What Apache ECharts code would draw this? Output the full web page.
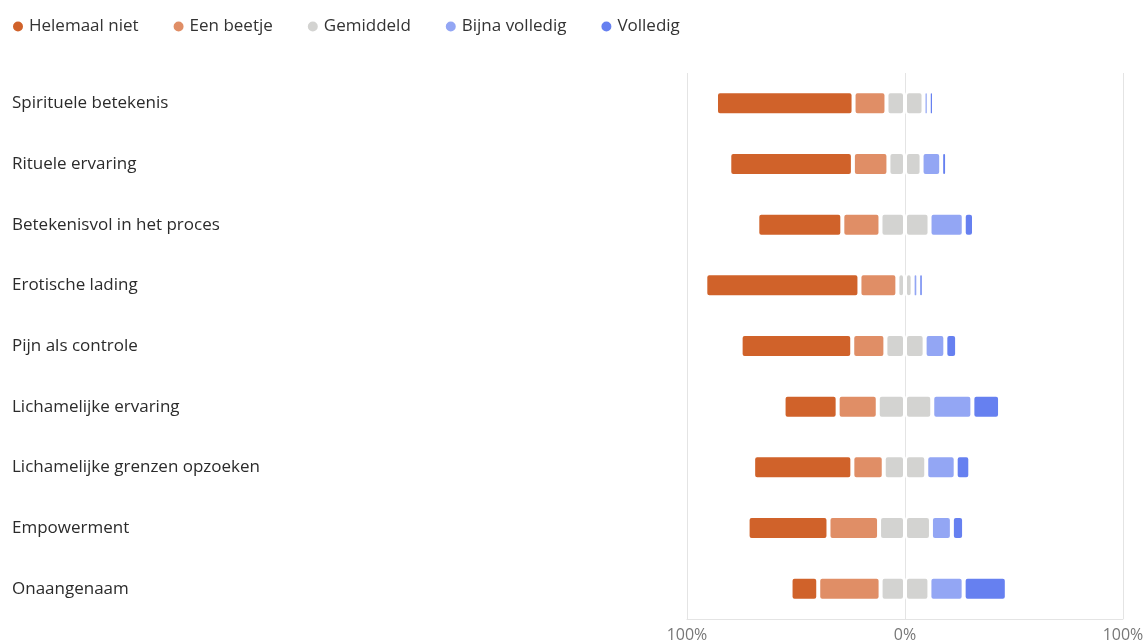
<!DOCTYPE html>
<html>
<head>
<meta charset="utf-8">
<script src="https://cdn.jsdelivr.net/npm/echarts@6/dist/echarts.min.js"></script>
<style>
html,body{margin:0;padding:0;background:#fff;}
#chart{width:1147px;height:643px;}
</style>
</head>
<body>
<div id="chart"></div>
<script>
const categories = ['Spirituele betekenis','Rituele ervaring','Betekenisvol in het proces','Erotische lading','Pijn als controle','Lichamelijke ervaring','Lichamelijke grenzen opzoeken','Empowerment','Onaangenaam'];
const helemaalNiet = [63.1, 56.7, 39.0, 70.7, 51.2, 24.8, 45.5, 37.1, 12.7];
const eenBeetje = [15.1, 16.3, 17.5, 17.4, 15.2, 18.4, 14.4, 23.2, 28.6];
const gemiddeld = [17.0, 15.2, 22.5, 7.0, 18.0, 25.0, 19.5, 23.8, 22.4];
const bijnaVolledig = [2.4, 9.0, 15.7, 2.6, 9.5, 18.4, 13.5, 9.6, 15.7];
const volledig = [2.4, 2.7, 4.7, 2.5, 5.4, 12.7, 6.7, 5.6, 19.8];
const xTicks = [-100, 0, 100];
const legendNames = ['Helemaal niet','Een beetje','Gemiddeld','Bijna volledig','Volledig'];
const colors = {hn:'#D0622A', eb:'#E08E66', gem:'#D3D3D1', bv:'#93A6F4', v:'#6680F0'};

const chart = echarts.init(document.getElementById('chart'));
const font = '"Open Sans", "Noto Sans", sans-serif';
function bar(name, data, color){
  return {
    name: name, type: 'bar', stack: 'total', data: data, barWidth: 24,
    itemStyle: {color: color, borderColor: '#fff', borderWidth: 2, borderRadius: 3},
    emphasis: {disabled: true}
  };
}
chart.setOption({
  animation: false,
  textStyle: {fontFamily: font},
  color: [colors.hn, colors.eb, colors.gem, colors.bv, colors.v],
  legend: {
    data: legendNames, left: 6, top: 13, icon: 'circle', itemWidth: 12, itemHeight: 12,
    itemGap: 33, textStyle: {fontSize: 17, color: '#333', fontFamily: font}
  },
  grid: {left: 687, right: 24, top: 73, bottom: 20, containLabel: false},
  xAxis: {
    type: 'value', min: xTicks[0], max: xTicks[2], interval: 100,
    axisLabel: {formatter: v => Math.abs(v) + '%', color: '#777', fontSize: 16, margin: 8},
    axisLine: {show: true, lineStyle: {color: '#e4e4e4'}},
    axisTick: {show: false},
    splitLine: {show: true, lineStyle: {color: '#e4e4e4'}}
  },
  yAxis: {
    type: 'category', data: categories, inverse: true,
    axisLine: {show: false}, axisTick: {show: false},
    axisLabel: {align: 'left', margin: 675, fontSize: 17, color: '#2b2b2b'}
  },
  series: [
    bar('Gemiddeld', gemiddeld.map(v => -v / 2), colors.gem),
    bar('Gemiddeld', gemiddeld.map(v => v / 2), colors.gem),
    bar('Een beetje', eenBeetje.map(v => -v), colors.eb),
    bar('Bijna volledig', bijnaVolledig, colors.bv),
    bar('Helemaal niet', helemaalNiet.map(v => -v), colors.hn),
    bar('Volledig', volledig, colors.v)
  ]
});
</script>
</body>
</html>
